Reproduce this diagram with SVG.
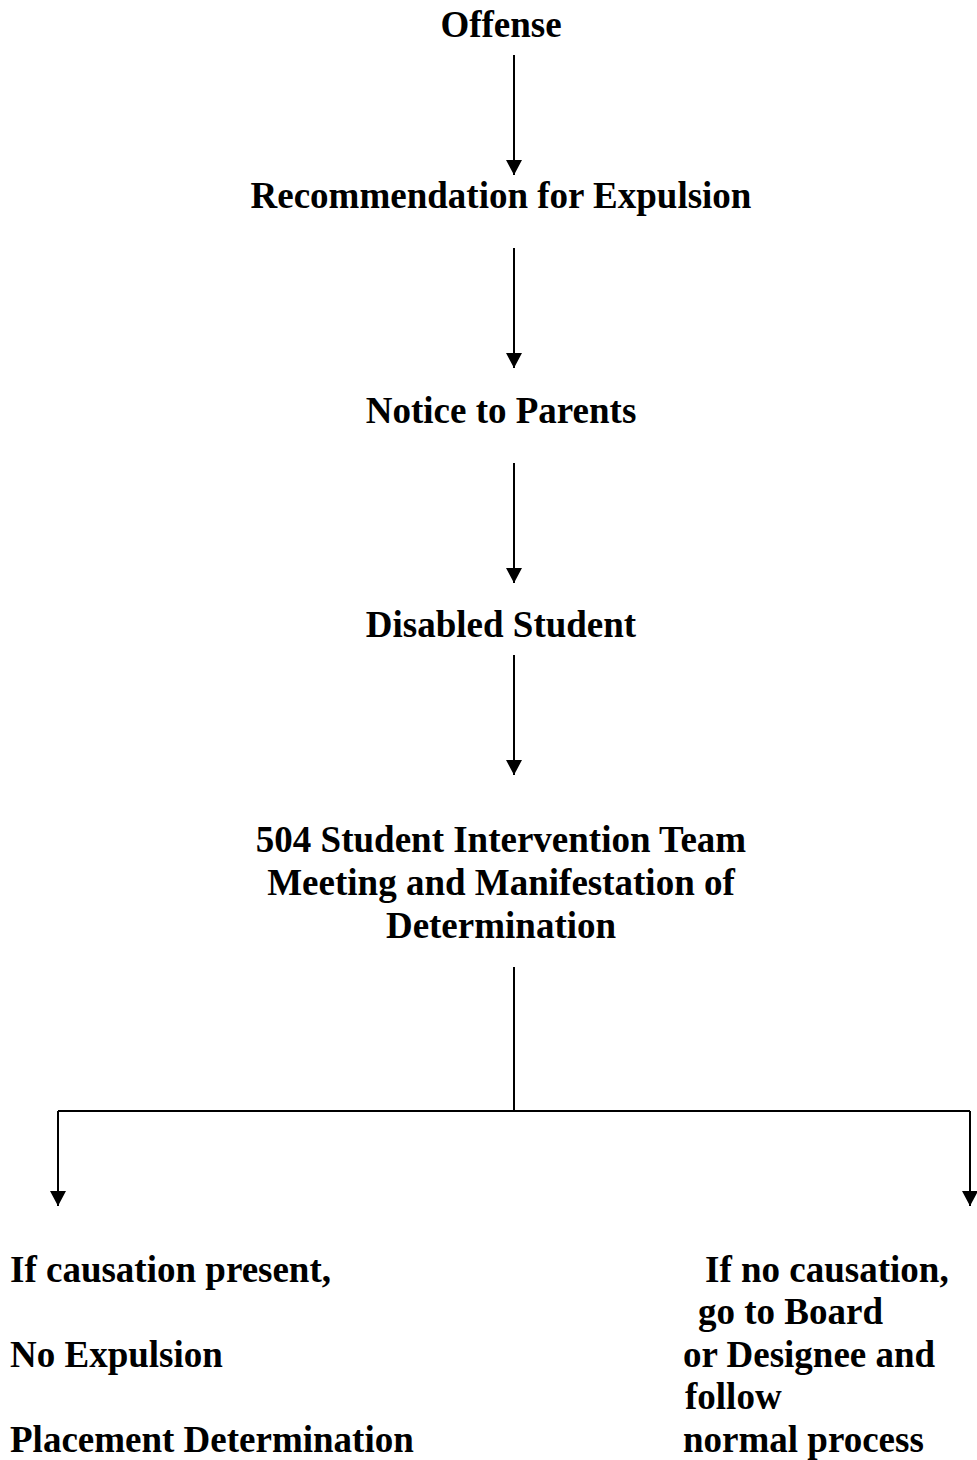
<svg xmlns="http://www.w3.org/2000/svg" width="977" height="1460" viewBox="0 0 977 1460">
<style>
text{font-family:"Liberation Serif","Times New Roman",serif;font-weight:bold;font-size:37px;fill:#000}
.c{text-anchor:middle}
.ln{stroke:#000;stroke-width:2;fill:none}
</style>
<defs>
<marker id="ah" markerUnits="userSpaceOnUse" markerWidth="16" markerHeight="16" viewBox="0 0 16 16" refX="15" refY="8" orient="auto">
<path d="M0,0 L15,8 L0,16 Z" fill="#000"/>
</marker>
</defs>
<rect width="977" height="1460" fill="#fff"/>
<g id="offense"><text class="c" x="501" y="37">Offense</text></g>
<g id="recommendation"><text class="c" x="501" y="208">Recommendation for Expulsion</text></g>
<g id="notice"><text class="c" x="501" y="423">Notice to Parents</text></g>
<g id="disabled"><text class="c" x="501" y="637">Disabled Student</text></g>
<g id="team">
<text class="c" x="501" y="852">504 Student Intervention Team</text>
<text class="c" x="501" y="895">Meeting and Manifestation of</text>
<text class="c" x="501" y="938">Determination</text>
</g>
<g id="causation">
<text x="10" y="1282">If causation present,</text>
<text x="10" y="1367">No Expulsion</text>
<text x="10" y="1452">Placement Determination</text>
</g>
<g id="nocausation">
<text x="705" y="1282">If no causation,</text>
<text x="698" y="1324">go to Board</text>
<text x="683" y="1367">or Designee and</text>
<text x="685" y="1409">follow</text>
<text x="683" y="1452">normal process</text>
</g>
<g id="connectors">
<path class="ln" d="M514,55 V175" marker-end="url(#ah)"/>
<path class="ln" d="M514,248 V368" marker-end="url(#ah)"/>
<path class="ln" d="M514,463 V583" marker-end="url(#ah)"/>
<path class="ln" d="M514,655 V775" marker-end="url(#ah)"/>
<path class="ln" d="M514,967 V1111"/>
<path class="ln" d="M58,1111 H970"/>
<path class="ln" d="M970,1111 V1206" marker-end="url(#ah)"/>
<path class="ln" d="M58,1111 V1206" marker-end="url(#ah)"/>
</g>
</svg>
